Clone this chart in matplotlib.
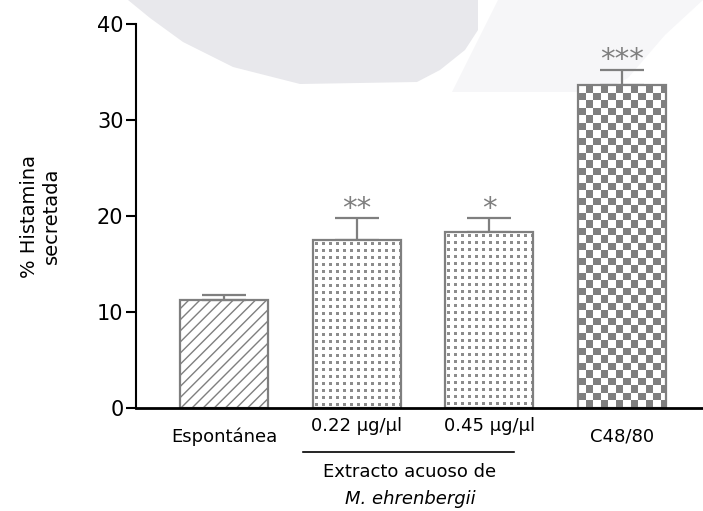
import numpy as np
import matplotlib.pyplot as plt
from matplotlib.patches import Polygon
from matplotlib.transforms import ScaledTranslation

categories = ["Espontánea", "0.22 µg/µl", "0.45 µg/µl", "C48/80"]
histamina = [11.2, 17.5, 18.3, 33.6]
sem = [0.6, 2.25, 1.45, 1.6]
signif = ["", "**", "*", "***"]
y_ticks = [0, 10, 20, 30, 40]

GRAY = '#7f7f7f'
plt.rcParams['font.family'] = ['DejaVu Sans']
plt.rcParams['hatch.color'] = GRAY
plt.rcParams['hatch.linewidth'] = 1.0

W, H = 703, 511
fig = plt.figure(figsize=(W / 100, H / 100), dpi=100)

# pale background shapes along the top edge
def fig_poly(pts, color):
    pts = [(x / W, 1 - y / H) for x, y in pts]
    fig.patches.append(Polygon(pts, closed=True, transform=fig.transFigure,
                               facecolor=color, edgecolor='none', zorder=-5))

fig_poly([(128, 0), (478, 0), (478, 30), (465, 50), (440, 70), (417, 82),
          (300, 84), (233, 67), (183, 42), (150, 18)], '#e8e8ec')
fig_poly([(498, 0), (703, 0), (665, 35), (628, 78), (600, 92), (452, 92)],
         '#f6f6f8')

ax = fig.add_axes([136 / W, (H - 408) / H, (W - 136) / W, (408 - 24) / H])
ax.set_zorder(1)
ax.patch.set_alpha(0)

x = np.arange(len(categories))
width = 0.663
bars = ax.bar(x, histamina, width=width, color='white', edgecolor=GRAY,
              linewidth=1.6, zorder=2)
bars[0].set_hatch('///')

ax.errorbar(x, histamina, yerr=[np.zeros(len(sem)), sem], fmt='none',
            ecolor=GRAY, elinewidth=1.6, capsize=16, capthick=1.6, zorder=1)

ax.set_xlim(-0.663, 3.61)
ax.set_ylim(0, 40)

# pixel-based fills for the dotted and checkered bars
fig.canvas.draw()
def pattern_fill(bar, kind):
    x0, x1 = bar.get_x(), bar.get_x() + bar.get_width()
    y0, y1 = 0, bar.get_height()
    (px0, py0), (px1, py1) = ax.transData.transform([(x0, y0), (x1, y1)])
    nw, nh = int(round(px1 - px0)), int(round(py1 - py0))
    jj, ii = np.meshgrid(np.arange(nw), np.arange(nh))
    if kind == 'dots':
        dark = ((jj - 2) % 7 < 3) & ((ii - 2) % 7 < 3)
        col = np.array([0.55, 0.55, 0.55])
    else:
        dark = ((jj // 7.5).astype(int) + (ii // 7.5).astype(int)) % 2 == 1
        col = np.array([0.5, 0.5, 0.5])
    img = np.ones((nh, nw, 3))
    img[dark] = col
    im = ax.imshow(img, extent=(x0, x1, y0, y1), origin='upper',
                   interpolation='nearest', aspect='auto', zorder=1.5)
    im.set_clip_path(bar)

pattern_fill(bars[1], 'dots')
pattern_fill(bars[2], 'dots')
pattern_fill(bars[3], 'checker')
for b in bars:
    b.set_facecolor('none')
ax.set_xlim(-0.663, 3.61)
ax.set_ylim(0, 40)

for xi, v, e, s in zip(x, histamina, sem, signif):
    if s:
        ax.annotate(s, (xi, v + e), xytext=(0, -3), textcoords='offset points',
                    ha='center', va='bottom', fontsize=21, color=GRAY)

for side in ['top', 'right']:
    ax.spines[side].set_visible(False)
ax.spines['left'].set_linewidth(1.5)
ax.spines['bottom'].set_linewidth(2)
ax.spines['bottom'].set_zorder(3)

ax.set_yticks(y_ticks)
ax.tick_params(axis='y', length=7, width=1.5, labelsize=15, pad=2)
ax.set_xticks(x)
ax.set_xticklabels(categories, fontsize=13)
ax.tick_params(axis='x', length=0, pad=14)
for lbl, dy in zip(ax.get_xticklabels(), [0, 10, 10, 0]):
    lbl.set_transform(lbl.get_transform() + ScaledTranslation(0, dy / 100, fig.dpi_scale_trans))

ax.set_ylabel("% Histamina\nsecretada", fontsize=14, labelpad=26)

# group bracket under the two extract doses
ax.annotate('', xy=(300 / W, 1 - 452 / H), xytext=(517 / W, 1 - 452 / H),
            xycoords='figure fraction',
            arrowprops=dict(arrowstyle='-', color='black', lw=1.2))
fig.text(410 / W, 1 - 472 / H, "Extracto acuoso de", ha='center', va='center',
         fontsize=13)
fig.text(410 / W, 1 - 499 / H, "M. ehrenbergii", ha='center', va='center',
         fontsize=13, style='italic')

fig.savefig("out.png", dpi=100)
